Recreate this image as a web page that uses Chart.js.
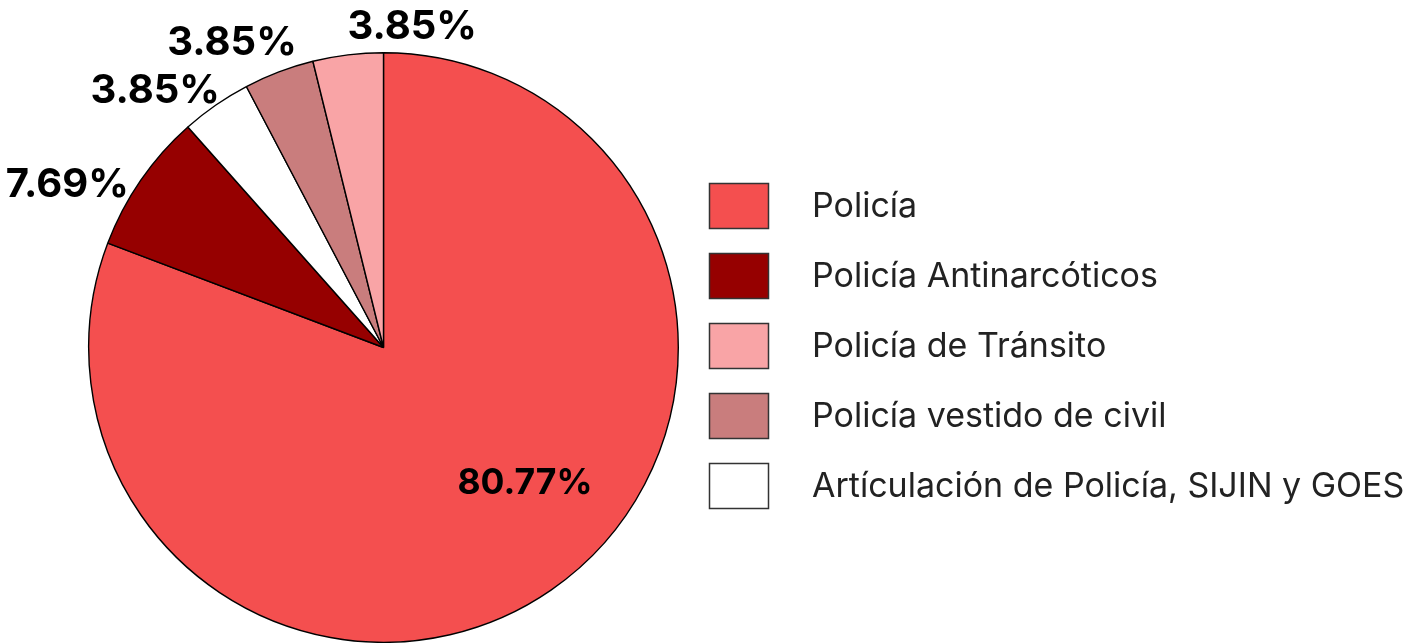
<!DOCTYPE html>
<html>
<head>
<meta charset="utf-8">
<script src="https://cdn.jsdelivr.net/npm/chart.js@4"></script>
<style>
html, body { margin: 0; padding: 0; background: #fff; }
</style>
</head>
<body>
<canvas id="chart" width="1425" height="643"></canvas>
<script>
// slices in drawing order (clockwise from 12 o'clock)
var labels = ['Policía', 'Policía Antinarcóticos', 'Artículación de Policía, SIJIN y GOES', 'Policía vestido de civil', 'Policía de Tránsito'];
var values = [80.77, 7.69, 3.85, 3.85, 3.85];
var colors = ['#F44F4F', '#960000', '#FFFFFF', '#C97D7D', '#F9A4A6'];
// legend lists them in another order
var legendOrder = [0, 1, 4, 3, 2];

// where each percentage sits: distance from centre (x radius), turn from mid-angle (deg)
var labelPlace = [[0.66, -12], [1.21, -7], [1.17, -6.8], [1.16, -5.5], [1.10, 12]];

var pctLabels = {
  id: 'pctLabels',
  afterDatasetsDraw: function(chart) {
    var ctx = chart.ctx;
    var meta = chart.getDatasetMeta(0);
    ctx.save();
    ctx.textAlign = 'center';
    ctx.textBaseline = 'alphabetic';
    ctx.fillStyle = '#000';
    meta.data.forEach(function(arc, i) {
      var p = arc.getProps(['x', 'y', 'startAngle', 'endAngle', 'outerRadius'], true);
      var a = (p.startAngle + p.endAngle) / 2 + labelPlace[i][1] * Math.PI / 180;
      var r = p.outerRadius * labelPlace[i][0];
      var size = i === 0 ? 35.5 : 40;
      ctx.font = '700 ' + size + 'px Inter';
      ctx.fillText(values[i].toFixed(2) + '%', p.x + r * Math.cos(a), p.y + r * Math.sin(a) + size * 0.36);
    });
    ctx.restore();
  }
};

// legend on the right, boxes with a wide gap before the text
var sideLegend = {
  id: 'sideLegend',
  afterDraw: function(chart) {
    var ctx = chart.ctx;
    ctx.save();
    ctx.font = '400 34px Inter';
    ctx.textBaseline = 'middle';
    ctx.textAlign = 'left';
    legendOrder.forEach(function(idx, row) {
      var top = 183 + row * 70;
      ctx.fillStyle = colors[idx];
      ctx.fillRect(709.5, top + 0.5, 59, 45);
      ctx.strokeStyle = '#333';
      ctx.lineWidth = 1.5;
      ctx.strokeRect(709.5, top + 0.5, 59, 45);
      ctx.fillStyle = '#222';
      ctx.fillText(labels[idx], 812, top + 24);
    });
    ctx.restore();
  }
};

new Chart('chart', {
  type: 'pie',
  data: {
    labels: labels,
    datasets: [{
      data: values,
      backgroundColor: colors,
      borderColor: '#000',
      borderWidth: 1.4,
      hoverOffset: 0
    }]
  },
  options: {
    responsive: false,
    animation: false,
    layout: { padding: { left: 88, right: 746, top: 52, bottom: 0 } },
    plugins: {
      legend: { display: false },
      tooltip: { enabled: false }
    }
  },
  plugins: [pctLabels, sideLegend]
});
</script>
</body>
</html>
